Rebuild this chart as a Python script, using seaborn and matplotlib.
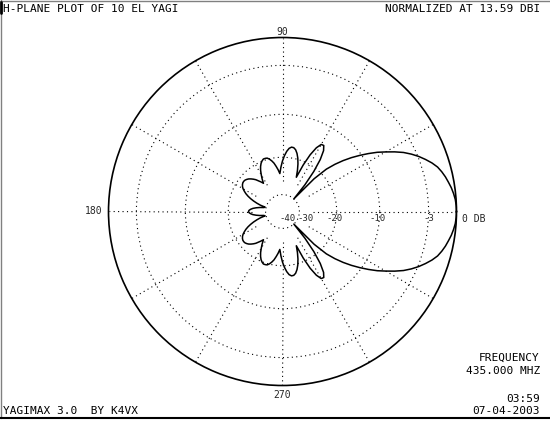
import numpy as np
import pandas as pd
import matplotlib
matplotlib.use("Agg")
import matplotlib.pyplot as plt
from matplotlib.lines import Line2D
import seaborn as sns

# ---------------- data ----------------
half_angles_deg = np.arange(0, 181, 2)  # 0..180 every 2 degrees
half_db = [
    0.0, -0.02, -0.08, -0.2, -0.35, -0.55, -0.75, -1.0, -1.3, -1.75,
    -2.3, -2.9, -3.6, -4.4, -5.4, -6.5, -7.6, -8.9, -10.3, -11.8,
    -13.5, -15.5, -18.0, -23.0, -40.0,
    -27.6, -21.1, -17.1, -14.8, -13.8, -13.9, -15.1, -17.4, -21.1, -26.6,
    -23.7, -21.4, -19.6, -18.3, -17.4, -16.95, -16.9, -17.3, -18.2, -19.5,
    -21.2, -23.4, -26.1,
    -24.4, -23.0, -21.7, -20.8, -20.1, -19.6, -19.5, -19.5, -19.9, -20.5,
    -21.4, -22.6, -24.2, -25.9, -28.0,
    -26.8, -25.7, -24.6, -23.8, -23.1, -22.5, -22.1, -21.8, -21.7, -21.75,
    -22.0, -22.4, -23.0, -23.9, -24.9, -26.2, -27.8, -29.7, -32.0, -34.7,
    -39.0,
    -38.0, -34.7, -32.2, -30.3, -29.1, -28.3, -28.0,
]
ring_db = [-3, -10, -20, -40]
ring_labels_db = [-40, -30, -20, -10, -3]
ring_label_text = ["-40", "-30", "-20", "-10", "-3"]
spoke_angles_deg = list(range(0, 360, 30))
title_left = "H-PLANE PLOT OF 10 EL YAGI"
title_right = "NORMALIZED AT 13.59 DBI"
footer_left = "YAGIMAX 3.0  BY K4VX"
freq_title = "FREQUENCY"
freq_value = "435.000 MHZ"
time_text = "03:59"
date_text = "07-04-2003"

# ---------------- helpers ----------------
def arrl(db):
    """ARRL log radial scale: 0.89 per 2 dB."""
    return 0.89 ** (-np.asarray(db, dtype=float) / 2.0)

half_db = np.array(half_db)
full_deg = np.concatenate([half_angles_deg, 360 - half_angles_deg[-2::-1]])
full_db = np.concatenate([half_db, half_db[-2::-1]])
df = pd.DataFrame({"theta": np.deg2rad(full_deg), "r": arrl(full_db)})

# ---------------- figure ----------------
sns.set_style("white")
plt.rcParams["font.family"] = ["DejaVu Sans Mono", "DejaVu Sans"]

W, H = 550, 422
fig = plt.figure(figsize=(W / 100, H / 100), dpi=100)
fig.patch.set_facecolor("white")

cx, cy, R = 282.5, 211.5, 174
ax = fig.add_axes([(cx - R) / W, (H - cy - R) / H, 2 * R / W, 2 * R / H],
                  projection="polar")
ax.set_facecolor("white")
ax.set_ylim(0, 1)
ax.set_xticks([])
ax.set_yticks(arrl(ring_db))
ax.set_yticklabels([])
ax.yaxis.grid(True, linestyle=(0, (1, 3)), color="black", linewidth=0.8)
ax.xaxis.grid(False)
ax.spines["polar"].set_color("black")
ax.spines["polar"].set_linewidth(1.2)

# spokes from the -30 dB level outward
ax.vlines(np.deg2rad(spoke_angles_deg), arrl(-30), 1.0, colors="black",
          linestyles=(0, (1, 3)), linewidth=0.8)

# pattern
sns.lineplot(data=df, x="theta", y="r", ax=ax, sort=False, estimator=None,
             color="black", linewidth=1.1)
ax.set_xlabel("")
ax.set_ylabel("")

small = 7
# angle labels
ax.text(np.pi / 2, 1.032, "90", ha="center", va="center", fontsize=small, clip_on=False)
ax.text(3 * np.pi / 2, 1.052, "270", ha="center", va="center", fontsize=small, clip_on=False)
ax.text(np.pi, 1.083, "180", ha="center", va="center", fontsize=small, clip_on=False)

# dB labels along 0 deg axis
offsets = {-40: -11.5, -30: -7, -20: -2, -10: -2, -3: 0}
for d, t in zip(ring_labels_db, ring_label_text):
    ax.annotate(t, xy=(0, arrl(d)), xytext=(offsets[d], -7), textcoords="offset pixels",
                ha="center", va="center", fontsize=6.5, annotation_clip=False)
ax.annotate("0 DB", xy=(0, 1.0), xytext=(5, -7), textcoords="offset pixels",
            ha="left", va="center", fontsize=small, annotation_clip=False)

# header / footer text
big = 8.0
def ftxt(x, y, s, ha):
    fig.text(x / W, 1 - y / H, s, ha=ha, va="baseline", fontsize=big, color="black")

ftxt(3, 12, title_left, "left")
ftxt(540, 12, title_right, "right")
ftxt(540, 361, freq_title, "right")
ftxt(540, 374, freq_value, "right")
ftxt(540, 402, time_text, "right")
ftxt(540, 414, date_text, "right")
ftxt(3, 414, footer_left, "left")

# frame lines
fig.add_artist(Line2D([0, 1], [1 - 0.5 / H, 1 - 0.5 / H], transform=fig.transFigure,
                      color="#808080", linewidth=1.0))
fig.add_artist(Line2D([0.5 / W, 0.5 / W], [1 - 418 / H, 1], transform=fig.transFigure,
                      color="#808080", linewidth=1.0))
fig.add_artist(Line2D([1 / W, 1 / W], [1 - 13 / H, 1 - 2 / H], transform=fig.transFigure,
                      color="black", linewidth=2.0))
fig.add_artist(Line2D([0, 1], [1 - 418 / H, 1 - 418 / H], transform=fig.transFigure,
                      color="black", linewidth=1.5))

fig.savefig("out.png", dpi=100, facecolor="white")
